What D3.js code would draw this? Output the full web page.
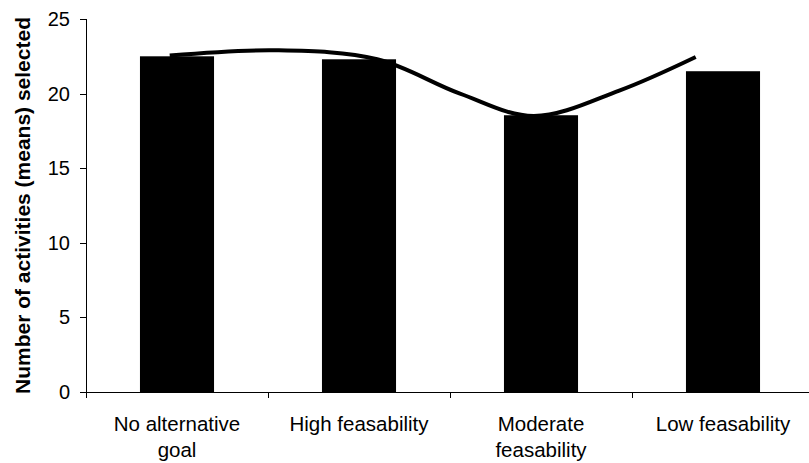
<!DOCTYPE html>
<html>
<head>
<meta charset="utf-8">
<script src="https://cdn.jsdelivr.net/npm/d3@7"></script>
<style>
  html, body { margin: 0; padding: 0; background: #fff; }
  svg { display: block; }
  text { font-family: "Liberation Sans", Arial, sans-serif; fill: #000; }
</style>
</head>
<body>
<svg id="chart" width="809" height="463"></svg>
<script>
// Mean number of activities selected per condition
const categories = [["No alternative", "goal"], ["High feasability"], ["Moderate", "feasability"], ["Low feasability"]];
const means = [22.5, 22.3, 18.55, 21.5];
const yTicks = [0, 5, 10, 15, 20, 25];

// Smoothed overlay line: positions in category units, values in axis units
const curveX = [-0.04, 0.55, 1.1, 1.555, 1.96, 2.43, 2.85];
const curveY = [22.55, 22.9, 22.3, 20.0, 18.5, 20.2, 22.45];

const svg = d3.select("#chart");
const plotLeft = 86, plotRight = 814, plotTop = 19, plotBottom = 392;

const keys = categories.map((c, i) => i);
const x = d3.scaleBand().domain(keys).range([plotLeft, plotRight])
  .paddingInner(0.593).paddingOuter(0.2965);
const step = x.step();
const center = i => x(i) + x.bandwidth() / 2;
const xc = d3.scaleLinear().domain([0, 3]).range([center(0), center(3)]);
const y = d3.scaleLinear().domain([0, 25]).range([plotBottom, plotTop]);

// Bars
svg.append("g").selectAll("rect").data(means).join("rect")
  .attr("x", (d, i) => x(i))
  .attr("y", d => y(d))
  .attr("width", x.bandwidth())
  .attr("height", d => y(0) - y(d))
  .attr("fill", "#000");

// Smoothed line
const pts = curveX.map((v, i) => [xc(v), y(curveY[i])]);
svg.append("path")
  .attr("d", d3.line().curve(d3.curveCatmullRom.alpha(0.5))(pts))
  .attr("fill", "none")
  .attr("stroke", "#000")
  .attr("stroke-width", 4);

// Y axis
const yAxis = svg.append("g").attr("transform", `translate(${plotLeft},0)`)
  .call(d3.axisLeft(y).tickValues(yTicks).tickSize(6).tickPadding(10).tickFormat(d3.format("d")));
yAxis.selectAll("path, line").attr("stroke", "#000").attr("shape-rendering", "crispEdges");
yAxis.select(".domain").attr("d", `M0.5,${plotBottom}V${plotTop}`);
yAxis.selectAll("text").style("font-size", "20px").style("font-family", "Liberation Sans, Arial, sans-serif");

// X axis line with category boundary ticks
const xg = svg.append("g");
xg.append("line").attr("x1", plotLeft).attr("x2", plotRight)
  .attr("y1", plotBottom + 0.5).attr("y2", plotBottom + 0.5)
  .attr("stroke", "#000");
xg.selectAll("line.t").data(d3.range(categories.length + 1)).join("line")
  .attr("class", "t")
  .attr("x1", i => plotLeft + i * step + 0.5).attr("x2", i => plotLeft + i * step + 0.5)
  .attr("y1", plotBottom).attr("y2", plotBottom + 6)
  .attr("stroke", "#000");

// Category labels
const labels = xg.selectAll("text.cat").data(categories).join("text")
  .attr("class", "cat")
  .attr("text-anchor", "middle")
  .style("font-size", "20.5px")
  .attr("transform", (d, i) => `translate(${center(i)},431)`);
labels.selectAll("tspan").data(d => d).join("tspan")
  .attr("x", 0)
  .attr("dy", (d, j) => j === 0 ? 0 : 26)
  .text(d => d);

// Y axis title
svg.append("text")
  .attr("transform", `translate(30,${(plotTop + plotBottom) / 2}) rotate(-90)`)
  .attr("text-anchor", "middle")
  .style("font-size", "21px")
  .style("font-weight", "bold")
  .text("Number of activities (means) selected");
</script>
</body>
</html>
